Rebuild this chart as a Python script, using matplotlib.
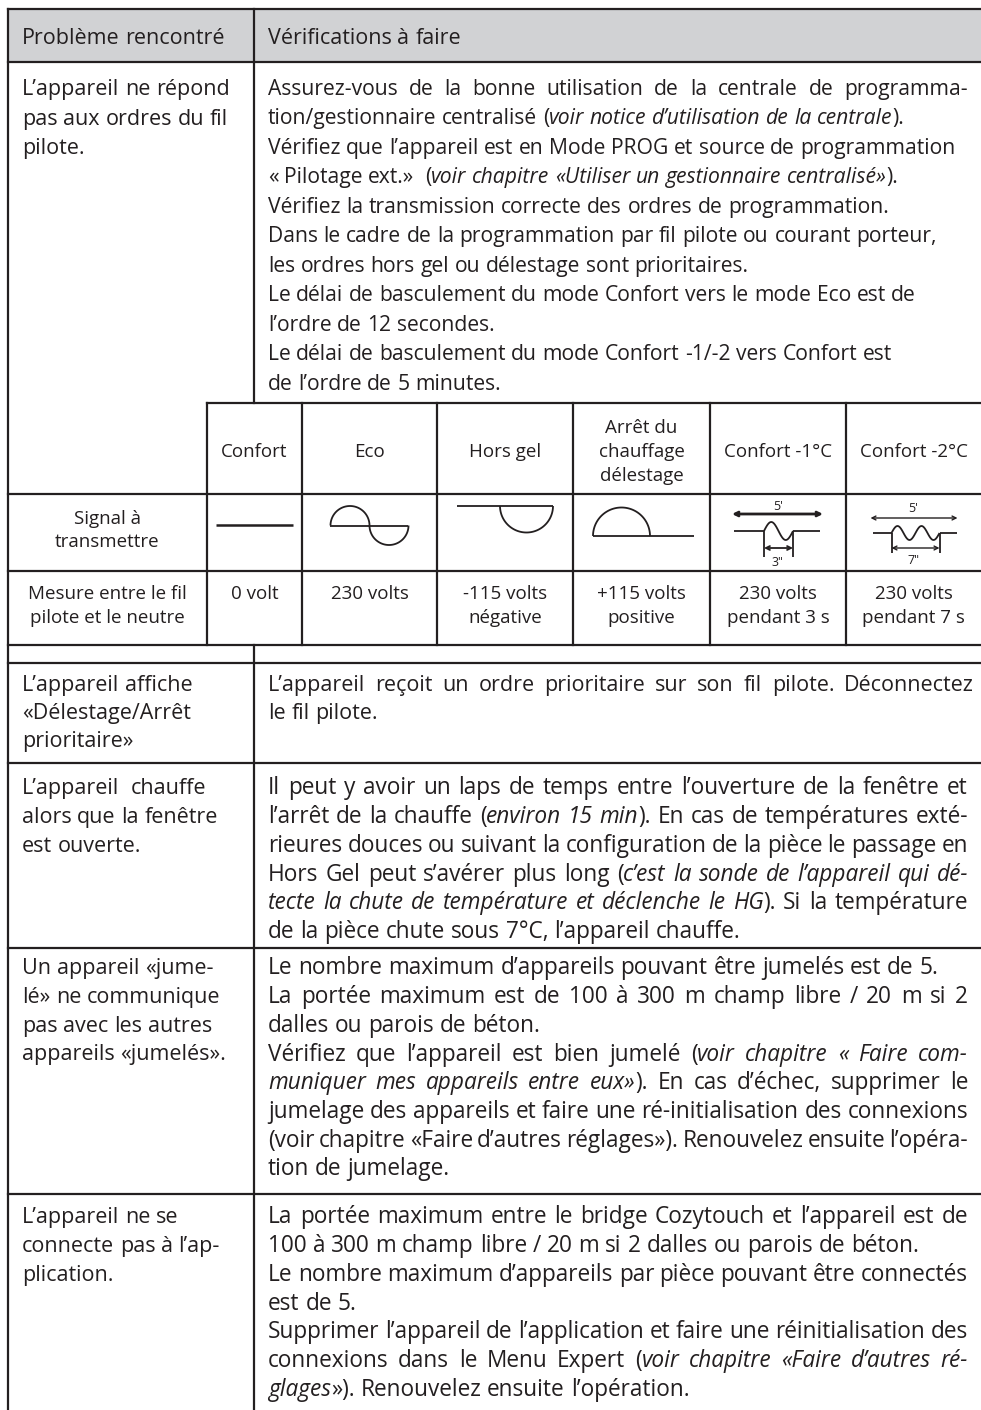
import matplotlib.pyplot as plt
import numpy as np

FONT = 'Open Sans'
INK = '#231f20'
GREY = '#d1d2d4'

# table content ( *...* marks italic text )
header = ['Problème rencontré', 'Vérifications à faire']

row1_left = ['L’appareil ne répond', 'pas aux ordres du fil', 'pilote.']
row1_right = [
    'Assurez-vous de la bonne utilisation de la centrale de programma-',
    'tion/gestionnaire centralisé (*voir notice d’utilisation de la centrale*).',
    'Vérifiez que l’appareil est en Mode PROG et source de programmation',
    '« Pilotage ext.»  (*voir chapitre «Utiliser un gestionnaire centralisé»*).',
    'Vérifiez la transmission correcte des ordres de programmation.',
    'Dans le cadre de la programmation par fil pilote ou courant porteur,',
    'les ordres hors gel ou délestage sont prioritaires.',
    'Le délai de basculement du mode Confort vers le mode Eco est de',
    'l’ordre de 12 secondes.',
    'Le délai de basculement du mode Confort -1/-2 vers Confort est',
    'de l’ordre de 5 minutes.',
]
row1_just = [1, 0, 0, 0, 0, 0, 0, 0, 0, 0, 0]

sub_heads = ['Confort', 'Eco', 'Hors gel', 'Arrêt du\nchauffage\ndélestage',
             'Confort -1°C', 'Confort -2°C']
sub_labels = ['Signal à\ntransmettre', 'Mesure entre le fil\npilote et le neutre']
sub_values = ['0 volt', '230 volts', '-115 volts\nnégative', '+115 volts\npositive',
              '230 volts\npendant 3 s', '230 volts\npendant 7 s']

row2_left = ['L’appareil affiche', '«Délestage/Arrêt', 'prioritaire»']
row2_right = ['L’appareil reçoit un ordre prioritaire sur son fil pilote. Déconnectez',
              'le fil pilote.']
row2_just = [1, 0]

row3_left = ['L’appareil  chauffe', 'alors que la fenêtre', 'est ouverte.']
row3_right = [
    'Il peut y avoir un laps de temps entre l’ouverture de la fenêtre et',
    'l’arrêt de la chauffe (*environ 15 min*). En cas de températures exté-',
    'rieures douces ou suivant la configuration de la pièce le passage en',
    'Hors Gel peut s’avérer plus long (*c’est la sonde de l’appareil qui dé-*',
    '*tecte la chute de température et déclenche le HG*). Si la température',
    'de la pièce chute sous 7°C, l’appareil chauffe.',
]
row3_just = [1, 1, 1, 1, 1, 0]

row4_left = ['Un appareil «jume-', 'lé» ne communique', 'pas avec les autres',
             'appareils «jumelés».']
row4_right = [
    'Le nombre maximum d’appareils pouvant être jumelés est de 5.',
    'La portée maximum est de 100 à 300 m champ libre / 20 m si 2',
    'dalles ou parois de béton.',
    'Vérifiez que l’appareil est bien jumelé (*voir chapitre « Faire com-*',
    '*muniquer mes appareils entre eux»*). En cas d’échec, supprimer le',
    'jumelage des appareils  et faire une ré-initialisation des connexions',
    '(voir chapitre «Faire d’autres réglages»). Renouvelez ensuite l’opéra-',
    'tion de jumelage.',
]
row4_just = [0, 1, 0, 1, 1, 1, 1, 0]

row5_left = ['L’appareil ne se', 'connecte pas à l’ap-', 'plication.']
row5_right = [
    'La portée maximum entre le bridge Cozytouch et l’appareil est de',
    '100 à 300 m champ libre / 20 m si 2 dalles ou parois de béton.',
    'Le nombre maximum d’appareils par pièce pouvant être connectés',
    'est de 5.',
    'Supprimer l’appareil de l’application et faire une réinitialisation des',
    'connexions dans le Menu Expert (*voir chapitre «Faire d’autres ré-*',
    '*glages*»). Renouvelez ensuite l’opération.',
]
row5_just = [1, 0, 1, 0, 1, 1, 0]

fig = plt.figure(figsize=(9.81, 14.10), dpi=100)
ax = fig.add_axes([0, 0, 1, 1])
ax.set_xlim(0, 981)
ax.set_ylim(1410, 0)
ax.axis('off')
rend = fig.canvas.get_renderer()

SIZE = 15.5
MID = 15.2
BIG = 16.3
SUB = 13.5
_cache = {}


def width(s, italic, size):
    key = (s, italic, size)
    if key not in _cache:
        t = ax.text(0, 0, s, fontsize=size, family=FONT,
                    style='italic' if italic else 'normal')
        _cache[key] = t.get_window_extent(renderer=rend).width
        t.remove()
    return _cache[key]


def parse(s):
    out = []
    ital = False
    pending = 0
    for tok in s.split(' '):
        if tok == '':
            pending += 1
            continue
        segs = []
        for k, p in enumerate(tok.split('*')):
            if k > 0:
                ital = not ital
            if p:
                segs.append((p, ital))
        if segs:
            out.append((pending + (1 if out else 0), segs))
        pending = 0
    return out


def draw_line(x0, yc, s, size=SIZE, just=False, x1=968):
    words = parse(s)
    ws = [sum(width(t, it, size) for t, it in segs) for _, segs in words]
    sp = width('n n', False, size) - width('nn', False, size)
    if just and len(words) > 1:
        g = (x1 - x0 - sum(ws)) / (len(words) - 1)
        gaps = [0] + [g] * (len(words) - 1)
    else:
        gaps = [n * sp for n, _ in words]
    base = yc + 0.33 * size * 100 / 72
    x = x0
    for (n, segs), g in zip(words, gaps):
        x += g
        for t, it in segs:
            ax.text(x, base, t, fontsize=size, family=FONT, color=INK,
                    style='italic' if it else 'normal', ha='left', va='baseline')
            x += width(t, it, size)


def draw_block(x0, y0, lines, step, just=None, x1=968, size=SIZE):
    for i, s in enumerate(lines):
        draw_line(x0, y0 + i * step, s, size=size,
                  just=bool(just[i]) if just else False, x1=x1)


def center_text(cx, yc, s, size=SUB, step=24):
    lines = s.split('\n')
    top = yc - step * (len(lines) - 1) / 2
    for i, l in enumerate(lines):
        ax.text(cx, top + i * step + 0.33 * size * 100 / 72, l, fontsize=size,
                family=FONT, color=INK, ha='center', va='baseline')


LW = 1.6


def hl(y, x0=8, x1=981):
    ax.plot([x0, x1], [y, y], color=INK, lw=LW, solid_capstyle='projecting')


def vl(x, y0, y1):
    ax.plot([x, x], [y0, y1], color=INK, lw=LW, solid_capstyle='projecting')


# grid
ax.fill_between([8, 981], 9, 62, color=GREY, lw=0)
for y in [9, 62, 494, 571, 645, 663, 763, 948, 1194]:
    hl(y)
hl(403, 207, 981)
vl(8, 9, 1410)
vl(254, 9, 403)
vl(254, 645, 1410)
cols = [207, 302, 437, 573, 710, 846, 981]
for x in cols[:-1]:
    vl(x, 403, 645)

# header
draw_line(22, 37, header[0])
draw_line(268, 37, header[1])

# row 1
draw_block(22, 88, row1_left, 29.5)
draw_block(268, 88, row1_right, 29.5, row1_just, size=MID)

# sub table
centers = [(a + b) / 2 for a, b in zip(cols[:-1], cols[1:])]
for cx, s in zip(centers, sub_heads):
    center_text(cx, 451, s)
center_text(107.5, 529, sub_labels[0], step=23)
center_text(107.5, 605, sub_labels[1])
for cx, s in zip(centers, sub_values):
    center_text(cx, 593 if '\n' not in s else 605, s)


# signal icons
WL = 1.3


def line(xs, ys, lw=WL):
    ax.plot(xs, ys, color=INK, lw=lw, solid_capstyle='butt')


def half(cx, cy, r, up):
    t = np.linspace(0, np.pi, 60)
    line(cx + r * np.cos(t), cy - r * np.sin(t) if up else cy + r * np.sin(t))


def darrow(x0, x1, y, lw):
    ax.annotate('', xy=(x1, y), xytext=(x0, y),
                arrowprops=dict(arrowstyle='<->', color=INK, lw=lw,
                                shrinkA=0, shrinkB=0, mutation_scale=7))


c = centers
line([c[0] - 38.5, c[0] + 38.5], [525, 525], lw=1.8)

line([c[1] - 39.5, c[1] + 38.5], [525.5, 525.5])
half(c[1] - 19.5, 525.5, 19.5, True)
half(c[1] + 19.5, 525.5, 19.5, False)

line([c[2] - 48, c[2] + 48], [506, 506])
half(c[2] + 21.5, 506, 26.5, False)

line([c[3] - 48.5, c[3] + 52.5], [536, 536])
half(c[3] - 20, 536, 28.5, True)

# confort -1
cx = c[4]
darrow(cx - 46, cx + 45, 514, 2.0)
ax.text(cx, 510, "5'", fontsize=9, family=FONT, color=INK, ha='center', va='baseline')
line([cx - 44, cx - 14], [531, 531])
line([cx + 15, cx + 42], [531, 531])
xs = np.linspace(cx - 14, cx + 15, 60)
line(xs, 531 - 9 * np.sin(2 * np.pi * (xs - xs[0]) / 29))
line([cx - 14, cx - 14], [531, 557])
line([cx + 15, cx + 15], [531, 557])
darrow(cx - 14, cx + 15, 548, 1.3)
ax.text(cx, 566, '3"', fontsize=9, family=FONT, color=INK, ha='center', va='baseline')

# confort -2
cx = c[5]
darrow(cx - 43, cx + 44, 518, 1.0)
ax.text(cx, 512, "5'", fontsize=9, family=FONT, color=INK, ha='center', va='baseline')
line([cx - 41, cx - 22], [533, 533])
line([cx + 26, cx + 43], [533, 533])
xs = np.linspace(cx - 22, cx + 26, 80)
line(xs, 533 - 7 * np.sin(2 * np.pi * (xs - xs[0]) / 24))
line([cx - 22, cx - 22], [533, 553])
line([cx + 26, cx + 26], [533, 553])
darrow(cx - 22, cx + 26, 548, 1.0)
ax.text(cx, 564, '7"', fontsize=9, family=FONT, color=INK, ha='center', va='baseline')

# rows 2-5
draw_block(22, 684, row2_left, 28)
draw_block(268, 684, row2_right, 28, row2_just, x1=974)
draw_block(22, 787, row3_left, 28.7)
draw_block(268, 787, row3_right, 28.7, row3_just, size=BIG)
draw_block(22, 967, row4_left, 28.7)
draw_block(268, 967, row4_right, 28.7, row4_just, size=BIG)
draw_block(22, 1216, row5_left, 28.7)
draw_block(268, 1216, row5_right, 28.7, row5_just, size=BIG)

plt.savefig('out.png', dpi=100)
